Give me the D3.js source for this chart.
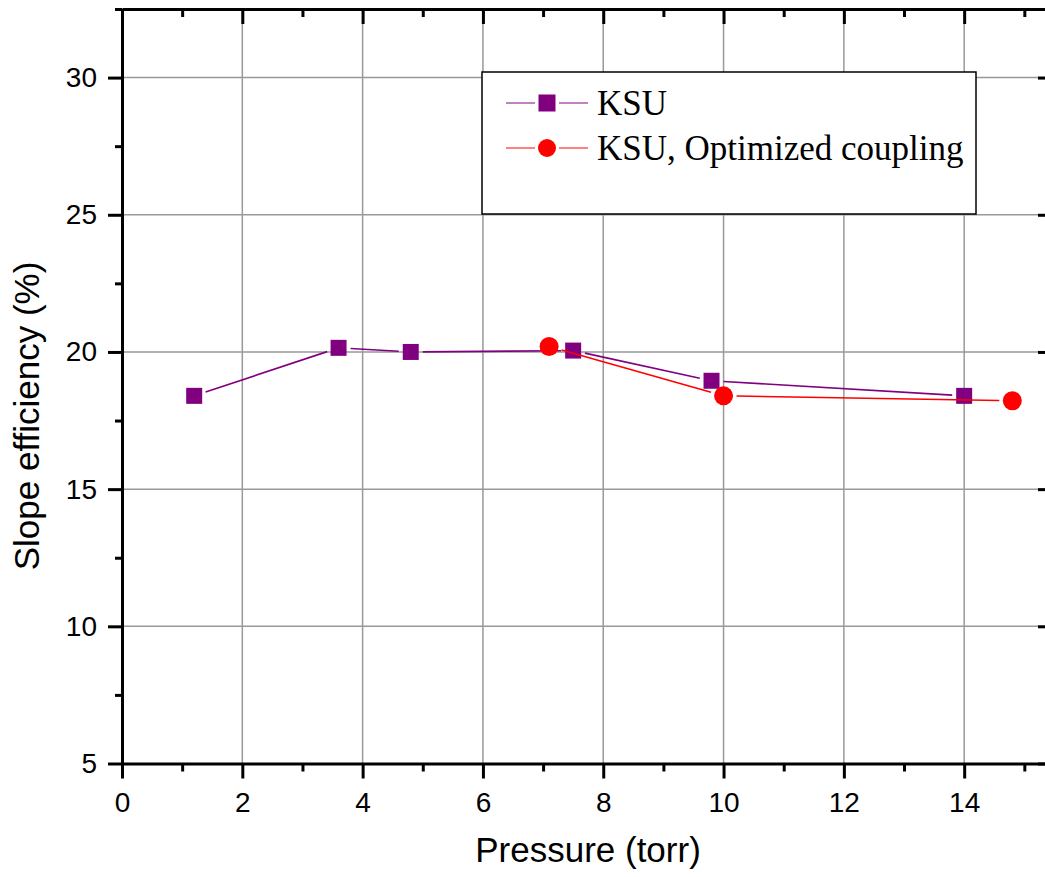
<!DOCTYPE html>
<html>
<head>
<meta charset="utf-8">
<script src="https://cdn.jsdelivr.net/npm/d3@7"></script>
<style>
  html, body { margin: 0; padding: 0; background: #fff; }
  svg { display: block; }
</style>
</head>
<body>
<svg id="chart" width="1045" height="877"></svg>
<script>
// Slope efficiency vs. pressure for two KSU configurations
const ksuPressure = [1.2, 3.6, 4.8, 7.5, 9.8, 14.0];
const ksuEfficiency = [18.4, 20.15, 20.0, 20.05, 18.95, 18.4];
const optPressure = [7.1, 10.0, 14.8];
const optEfficiency = [20.2, 18.4, 18.22];

const seriesNames = ["KSU", "KSU, Optimized coupling"];
const xTickValues = [0, 2, 4, 6, 8, 10, 12, 14];
const yTickValues = [5, 10, 15, 20, 25, 30];

const svg = d3.select("#chart");
const margin = { left: 122, top: 9 };
const plotW = 930, plotH = 754.5;

const x = d3.scaleLinear().domain([0, 15.46]).range([0, plotW]);
const y = d3.scaleLinear().domain([5, 32.5]).range([plotH, 0]);

const g = svg.append("g").attr("transform", `translate(${margin.left},${margin.top})`);

// grid
const grid = g.append("g").attr("stroke", "#999").attr("stroke-width", 1.5);
grid.selectAll("line.v").data(xTickValues.filter(d => d > 0)).join("line")
  .attr("x1", d => x(d)).attr("x2", d => x(d)).attr("y1", 0).attr("y2", plotH);
grid.selectAll("line.h").data(yTickValues.filter(d => d > 5)).join("line")
  .attr("y1", d => y(d)).attr("y2", d => y(d)).attr("x1", 0).attr("x2", plotW);

// legend box (covers the grid)
const leg = svg.append("g");
leg.append("rect").attr("x", 482).attr("y", 72).attr("width", 494).attr("height", 142)
  .attr("fill", "#fff").attr("stroke", "#000").attr("stroke-width", 1.5);

// series drawing with small gaps between markers and connecting lines
function drawSeries(xs, ys, color, cut, markerFn) {
  const pts = xs.map((d, i) => [x(d), y(ys[i])]);
  const segs = d3.pairs(pts).map(([a, b]) => {
    const dx = b[0] - a[0], dy = b[1] - a[1];
    const L = Math.hypot(dx, dy);
    const ux = dx / L, uy = dy / L;
    return [a[0] + ux * cut, a[1] + uy * cut, b[0] - ux * cut, b[1] - uy * cut];
  });
  g.append("g").selectAll("line").data(segs).join("line")
    .attr("x1", d => d[0]).attr("y1", d => d[1]).attr("x2", d => d[2]).attr("y2", d => d[3])
    .attr("stroke", color).attr("stroke-width", 1.6);
  markerFn(g.append("g"), pts);
}

const sq = 16, cr = 9.5;
drawSeries(ksuPressure, ksuEfficiency, "#800080", 12, (sel, pts) => {
  sel.selectAll("rect").data(pts).join("rect")
    .attr("x", d => d[0] - sq / 2).attr("y", d => d[1] - sq / 2)
    .attr("width", sq).attr("height", sq).attr("fill", "#800080");
});
drawSeries(optPressure, optEfficiency, "#ff0000", 13, (sel, pts) => {
  sel.selectAll("circle").data(pts).join("circle")
    .attr("cx", d => d[0]).attr("cy", d => d[1]).attr("r", cr).attr("fill", "#ff0000");
});

// legend entries
const rows = [
  { name: seriesNames[0], color: "#800080", y: 103, shape: "square", lineColor: "#a64ca6" },
  { name: seriesNames[1], color: "#ff0000", y: 148, shape: "circle", lineColor: "#ff4a4a" }
];
rows.forEach(r => {
  leg.append("line").attr("x1", 506).attr("x2", 535).attr("y1", r.y).attr("y2", r.y)
    .attr("stroke", r.lineColor).attr("stroke-width", 1.4);
  leg.append("line").attr("x1", 559).attr("x2", 588).attr("y1", r.y).attr("y2", r.y)
    .attr("stroke", r.lineColor).attr("stroke-width", 1.4);
  if (r.shape === "square") {
    leg.append("rect").attr("x", 547 - 8.5).attr("y", r.y - 8.5).attr("width", 17).attr("height", 17)
      .attr("fill", r.color);
  } else {
    leg.append("circle").attr("cx", 547).attr("cy", r.y).attr("r", 9).attr("fill", r.color);
  }
  leg.append("text").attr("x", 597).attr("y", r.y + 12)
    .attr("font-family", "'Liberation Serif', 'Times New Roman', serif").attr("font-size", 35)
    .attr("fill", "#000").text(r.name);
});

// axes
const tickFont = "'Liberation Sans', Arial, sans-serif";
function styleAxis(sel) {
  sel.select(".domain").attr("stroke", "#000").attr("stroke-width", 3);
  sel.selectAll(".tick line").attr("stroke", "#000").attr("stroke-width", 3);
  sel.selectAll(".tick text").attr("font-family", tickFont).attr("font-size", 28).attr("fill", "#000");
}
const xMinor = d3.range(0, 16, 1).filter(d => d % 2 !== 0);
const yMinor = d3.range(7.5, 33, 5);

// bottom
const xb = g.append("g").attr("transform", `translate(0,${plotH})`)
  .call(d3.axisBottom(x).tickValues(xTickValues).tickSize(15).tickSizeOuter(0).tickPadding(14).tickFormat(d3.format("d")));
styleAxis(xb);
g.append("g").attr("transform", `translate(0,${plotH})`)
  .call(d3.axisBottom(x).tickValues(xMinor).tickSize(8).tickFormat(""))
  .call(s => { s.select(".domain").remove(); s.selectAll("line").attr("stroke", "#000").attr("stroke-width", 3); });

// top
const xt = g.append("g")
  .call(d3.axisBottom(x).tickValues(xTickValues).tickSize(15).tickSizeOuter(0).tickFormat(""));
styleAxis(xt);
g.append("g")
  .call(d3.axisBottom(x).tickValues(xMinor).tickSize(8).tickFormat(""))
  .call(s => { s.select(".domain").remove(); s.selectAll("line").attr("stroke", "#000").attr("stroke-width", 3); });

// left
const yl = g.append("g")
  .call(d3.axisLeft(y).tickValues(yTickValues).tickSize(14).tickSizeOuter(0).tickPadding(11).tickFormat(d3.format("d")));
styleAxis(yl);
g.append("g")
  .call(d3.axisLeft(y).tickValues(yMinor).tickSize(7).tickFormat(""))
  .call(s => { s.select(".domain").remove(); s.selectAll("line").attr("stroke", "#000").attr("stroke-width", 3); });

// right (ticks pointing inward)
const yr = g.append("g").attr("transform", `translate(${plotW},0)`)
  .call(d3.axisLeft(y).tickValues(yTickValues).tickSize(-(-14)).tickSizeOuter(0).tickFormat(""));
yr.selectAll(".tick line").attr("x2", 14);
yr.call(s => s.selectAll(".tick line").attr("x2", -14));
styleAxis(yr);

// axis titles
svg.append("text").attr("x", 588).attr("y", 862).attr("text-anchor", "middle")
  .attr("font-family", tickFont).attr("font-size", 35).attr("fill", "#000").text("Pressure (torr)");
svg.append("text").attr("transform", "translate(39,416) rotate(-90)").attr("text-anchor", "middle")
  .attr("font-family", tickFont).attr("font-size", 35).attr("fill", "#000").text("Slope efficiency (%)");
</script>
</body>
</html>
